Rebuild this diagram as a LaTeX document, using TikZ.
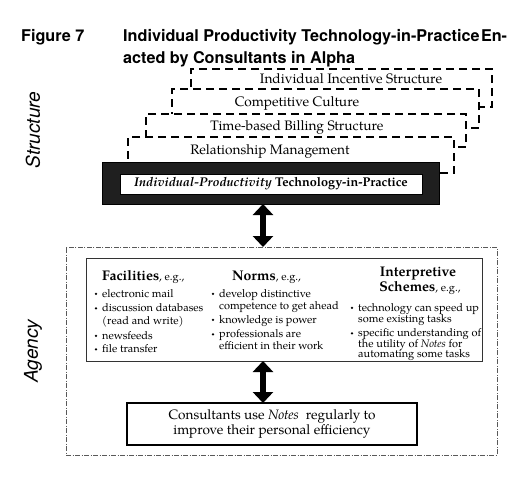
\documentclass[tikz,border=0pt]{standalone}
\usepackage{fontspec}
\setmainfont{TeX Gyre Pagella}
\newfontfamily\herosfont{TeX Gyre Heros}
\usetikzlibrary{arrows.meta}
\newcommand\bitem[4]{\node[bul] (#1b) at (#2-6,#3-3.2) {};\node[itm] (#1) at (#2,#3) {#4};}
\newcommand\citem[4]{\node[itm] (#1) at (#2,#3) {#4};}
\newcommand\egsize{\fontsize{11}{13}\selectfont}
\begin{document}
\begin{tikzpicture}[x=1pt,y=-1pt,
  stackbox/.style={draw=black, fill=white, line width=1.6pt, dash pattern=on 8pt off 5pt,
     anchor=north west, inner sep=0pt, outer sep=0pt},
  stacktext/.style={font=\fontsize{13.7}{15}\selectfont, inner sep=0pt},
  titletext/.style={font=\herosfont\bfseries\fontsize{16.2}{19}\selectfont, anchor=base west, inner sep=0pt},
  sidelabel/.style={font=\herosfont\itshape\fontsize{19}{22}\selectfont, rotate=90, inner sep=0pt},
  plainbox/.style={draw=black, fill=white, anchor=north west, inner sep=0pt, outer sep=0pt},
  agencybox/.style={draw=black!65, line width=0.7pt, dash pattern=on 5pt off 1.5pt on 1pt off 1.5pt,
     anchor=north west, inner sep=0pt, outer sep=0pt},
  hdr/.style={font=\fontsize{14}{16}\selectfont, anchor=base west, inner sep=0pt},
  itm/.style={font=\fontsize{11}{12}\selectfont, anchor=base west, inner sep=0pt},
  bul/.style={circle, fill=black, inner sep=0pt, minimum size=2.6pt},
  dblarrow/.style={line width=5.5pt, {Triangle[width=20pt,length=11pt]}-{Triangle[width=20pt,length=11pt]}}
]
\useasboundingbox (0,0) rectangle (523,483);

% title
\node[titletext] (fig) at (21,41) {Figure 7};
\node[titletext] (ttl1) at (123,41) {Individual Productivity Technology-in-Practice\hspace{1.5pt}En-};
\node[titletext] (ttl2) at (123,63) {acted by Consultants in Alpha};

% side labels
\node[sidelabel] (lstruct) at (33,130) {Structure};
\node[sidelabel] (lagency) at (33,351) {Agency};

% stacked structure boxes
\node[stackbox, minimum width=301pt, minimum height=38pt] (s1) at (191,69) {};
\node[stacktext] (t1) at (351,79) {Individual Incentive Structure};
\node[stackbox, minimum width=307pt, minimum height=39pt] (s2) at (172,89) {};
\node[stacktext] (t2) at (297,103) {Competitive Culture};
\node[stackbox, minimum width=320pt, minimum height=33pt] (s3) at (146,114) {};
\node[stacktext] (t3) at (297,127) {Time-based Billing Structure};
\node[stackbox, minimum width=326pt, minimum height=36pt] (s4) at (128,137) {};
\node[stacktext] (t4) at (270,151) {Relationship Management};

% black box
\node[plainbox, fill=black!88, line width=1pt, minimum width=337pt, minimum height=42pt] (blk) at (102,162) {};
\node[plainbox, line width=0.8pt, minimum width=302pt, minimum height=20pt] (wht) at (120,174) {};
\node[stacktext, font=\bfseries\fontsize{12.7}{14}\selectfont] (t5) at (271,184) {\textit{Individual-Productivity} Technology-in-Practice};

% agency box
\node[agencybox, minimum width=431pt, minimum height=208pt] (agency) at (66,247) {};

% inner box
\node[plainbox, draw=black!80, line width=0.8pt, minimum width=396pt, minimum height=103pt] (inner) at (86,258) {};

% headers
\node[hdr] (hfac) at (102,280) {\textbf{Facilities}{\egsize, e.g.,}};
\node[hdr] (hnorm) at (232,280) {\textbf{Norms}{\egsize, e.g.,}};
\node[hdr, anchor=base] (hint1) at (418,276) {\textbf{Interpretive}};
\node[hdr, anchor=base] (hint2) at (420,291) {\textbf{Schemes}{\egsize, e.g.,}};

% facilities
\bitem{f1}{102}{297}{electronic mail}
\bitem{f2}{102}{311.5}{discussion databases}
\citem{f2c}{102}{324}{(read and write)}
\bitem{f3}{102}{339}{newsfeeds}
\bitem{f4}{102}{352.5}{file transfer}

% norms
\bitem{n1}{219}{297}{develop distinctive}
\citem{n1c}{219}{309}{competence to get ahead}
\bitem{n2}{219}{323}{knowledge is power}
\bitem{n3}{219}{337.5}{professionals are}
\citem{n3c}{219}{349}{efficient in their work}

% interpretive schemes
\bitem{i1}{358}{311}{technology can speed up}
\citem{i1c}{358}{322}{some existing tasks}
\bitem{i2}{358}{336.5}{specific understanding of}
\citem{i2c}{358}{347}{the utility of \textit{Notes} for}
\citem{i2d}{358}{357.5}{automating some tasks}

% bottom box
\node[plainbox, line width=1.2pt, minimum width=290pt, minimum height=42pt] (bot) at (127,403) {};
\node[stacktext, align=center, font=\fontsize{13.6}{15.5}\selectfont] (bott) at (bot.center) {Consultants use \textit{Notes}\ \ regularly to\\improve their personal efficiency};

% arrows
\coordinate (ax) at (263,0);
\draw[dblarrow] (blk.south -| ax) -- (agency.north -| ax);
\draw[dblarrow] (inner.south -| ax) -- (bot.north -| ax);
\end{tikzpicture}
\end{document}
